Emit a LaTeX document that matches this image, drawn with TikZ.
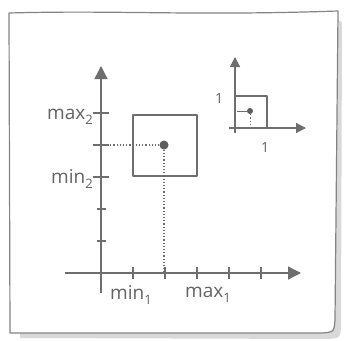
\documentclass[tikz,border=0pt]{standalone}
\usepackage{fontspec}
\setmainfont{Open Sans}
\usetikzlibrary{arrows.meta}
\definecolor{pencil}{HTML}{6E6E6E}
\newcommand{\lowidx}[1]{\raisebox{-0.5ex}{\fontsize{13}{13}\selectfont #1}}

\begin{document}
\begin{tikzpicture}[x=1pt, y=-1pt, line join=round,
  axis/.style={pencil, line width=1.3pt, -{Triangle[length=13pt,width=13pt]}},
  smallaxis/.style={pencil, line width=1.2pt, -{Triangle[length=10pt,width=10pt]}},
  tick/.style={pencil, line width=1.2pt},
  box/.style={pencil, line width=2.6pt},
  guide/.style={pencil, line width=1.2pt, dotted},
  dot/.style={circle, fill=pencil!85!black, inner sep=0pt, minimum size=#1},
  lbl/.style={text=pencil!90!black, font=\fontsize{19}{19}\selectfont, inner sep=1pt}]
  \useasboundingbox (0,0) rectangle (345,340);
  % sheet of paper with its shadow
  \fill[gray!30] (337,20) -- (342,22) -- (341,328) .. controls (340,338) .. (328,339) -- (20,338) -- (20,333) -- cycle;
  \draw[pencil!85, line width=1.2pt, fill=white]
    (9,13) .. controls (120,10) and (190,16) .. (338,11) -- (335,320)
    .. controls (334,332) .. (322,333) -- (10,333) -- cycle;

  % main axes
  \coordinate (O) at (101,273);
  \coordinate (xend) at (301,273);
  \coordinate (yend) at (101,66);
  \draw[axis] (65,273) -- (xend);
  \draw[axis] (101,293) -- (yend);
  \foreach \i in {1,...,5} \draw[tick] (101+32*\i,267) -- ++(0,12);
  \foreach \j in {1,2} \draw[tick] (97,273-32*\j) -- ++(9,0);
  \foreach \j in {3,4,5} \draw[tick] (93,273-32*\j) -- ++(16,0);

  % interval box and its centre
  \draw[box] (133,115) rectangle (197,176);
  \node[dot=9pt] (p) at (164,145) {};
  \coordinate (py) at (101,145);
  \coordinate (px) at (164,273);
  \draw[guide] (p) -- (py);
  \draw[guide] (p) -- (px);

  % labels
  \node[lbl, anchor=east] (max2) at (94,117) {max\lowidx{2}};
  \node[lbl, anchor=east] (min2) at (94,179) {min\lowidx{2}};
  \node[lbl] (min1) at (131,295) {min\lowidx{1}};
  \node[lbl] (max1) at (208,295) {max\lowidx{1}};

  % unit box inset
  \coordinate (o) at (235,128);
  \coordinate (uxend) at (306,128);
  \coordinate (uyend) at (235,57);
  \draw[smallaxis] (229,128) -- (uxend);
  \draw[smallaxis] (235,133) -- (uyend);
  \draw[box, line width=2.2pt] (235,96) rectangle (267,128);
  \node[dot=6pt] (q) at (250,111) {};
  \coordinate (qy) at (237,111);
  \coordinate (qx) at (250,128);
  \draw[pencil, line width=1pt] (q) -- (qy);
  \draw[guide, line width=1pt] (q) -- (qx);
  \node[lbl, font=\fontsize{14}{14}\selectfont] (one2) at (219,99) {1};
  \node[lbl, font=\fontsize{14}{14}\selectfont] (one1) at (265,148) {1};
\end{tikzpicture}
\end{document}
